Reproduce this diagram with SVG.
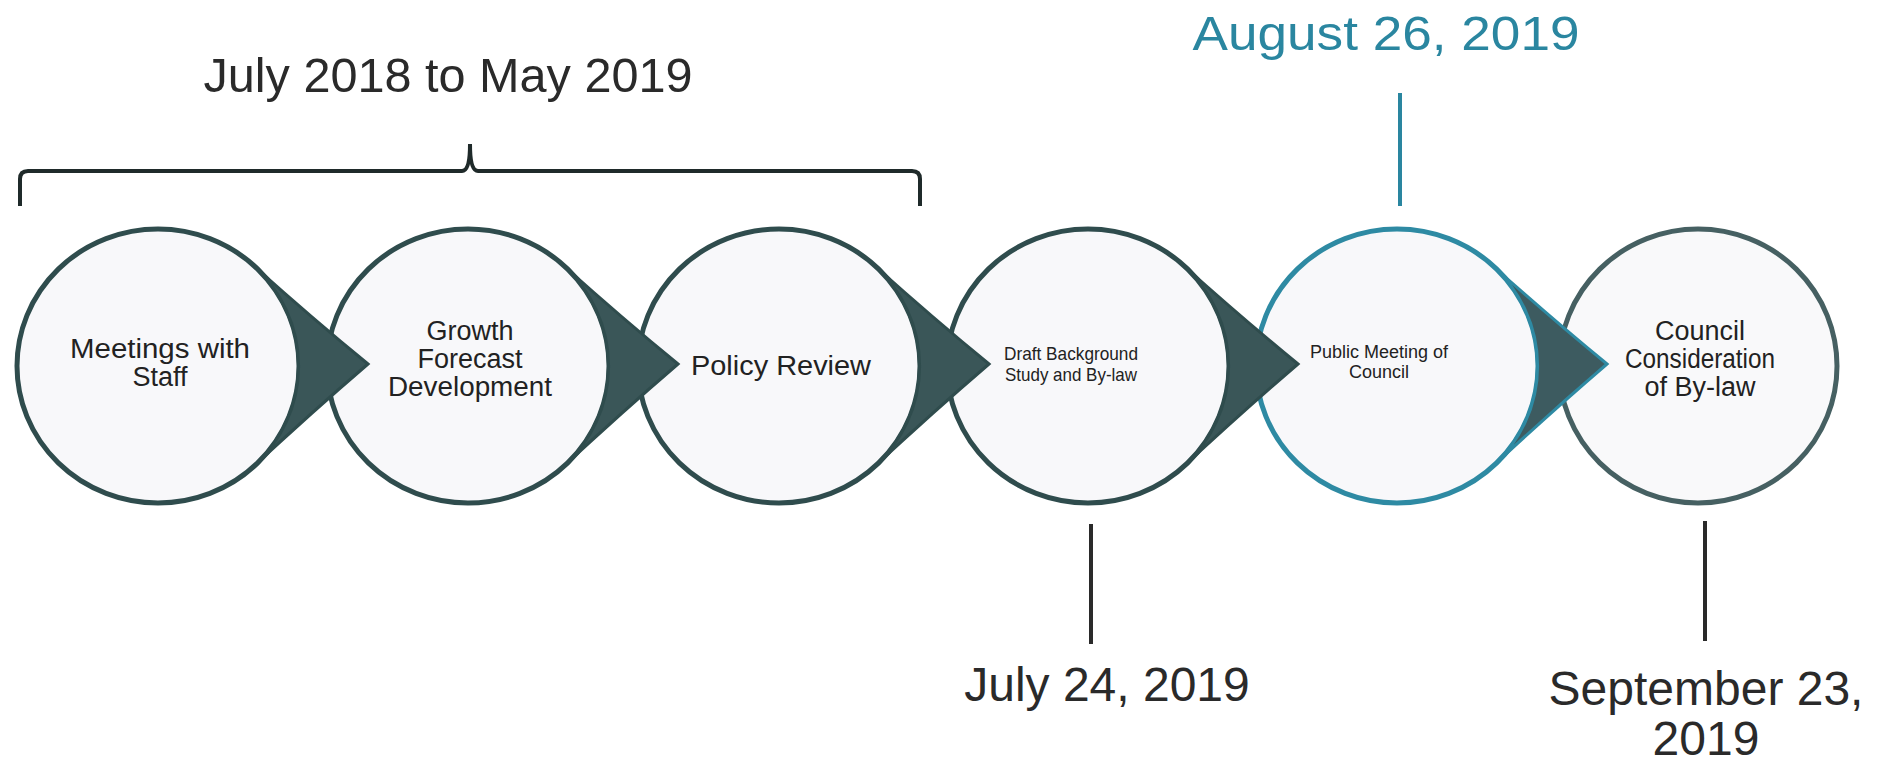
<svg xmlns="http://www.w3.org/2000/svg" width="1879" height="763" viewBox="0 0 1879 763">
<style>
  .circ { fill: #f8f8fa; stroke: #2f4c4d; stroke-width: 5; }
  .circ-teal { fill: #f8f8fa; stroke: #2e8aa3; stroke-width: 5; }
  .circ-last { fill: #f9f9fa; stroke: #466062; stroke-width: 5; }
  .chev { fill: #3a5658; stroke: #2f4c4d; stroke-width: 3; stroke-linejoin: miter; }
  .chev-teal { fill: #3d5b60; stroke: #2e8aa3; stroke-width: 3; stroke-linejoin: miter; }
  .lbl { font-family: "Liberation Sans", Arial, sans-serif; fill: #222; text-anchor: middle; }
  .date { font-family: "Liberation Sans", Arial, sans-serif; fill: #2a2a2a; text-anchor: middle; font-size: 48px; }
  .tick { stroke: #2a2a2a; stroke-width: 4; }
</style>

<!-- nodes -->
<g id="node-meetings">
  <ellipse class="circ" cx="158" cy="366" rx="141" ry="137"/>
</g>
<g id="node-growth">
  <ellipse class="circ" cx="468" cy="366" rx="141" ry="137"/>
</g>
<g id="node-policy">
  <ellipse class="circ" cx="779" cy="366" rx="141" ry="137"/>
</g>
<g id="node-draft">
  <ellipse class="circ" cx="1088" cy="366" rx="141" ry="137"/>
</g>
<g id="node-public">
  <ellipse class="circ-teal" cx="1397" cy="366" rx="141" ry="137"/>
</g>
<g id="node-council">
  <ellipse class="circ-last" cx="1698" cy="366" rx="139" ry="137"/>
</g>

<!-- connectors: chevron arrows -->
<g id="connectors">
  <path class="chev" transform="translate(158,366)" d="M 96,-100 Q 154,-48 210,-2 Q 154,46 96,100 A 141 137 0 0 0 96,-100 Z"/>
  <path class="chev" transform="translate(468,366)" d="M 96,-100 Q 154,-48 210,-2 Q 154,46 96,100 A 141 137 0 0 0 96,-100 Z"/>
  <path class="chev" transform="translate(779,366)" d="M 96,-100 Q 154,-48 210,-2 Q 154,46 96,100 A 141 137 0 0 0 96,-100 Z"/>
  <path class="chev" transform="translate(1088,366)" d="M 96,-100 Q 154,-48 210,-2 Q 154,46 96,100 A 141 137 0 0 0 96,-100 Z"/>
  <path class="chev-teal" transform="translate(1397,366)" d="M 96,-100 Q 154,-48 210,-2 Q 154,46 96,100 A 141 137 0 0 0 96,-100 Z"/>
</g>

<!-- node labels -->
<g id="labels">
  <text class="lbl" font-size="27"><tspan x="160" y="358" textLength="180" lengthAdjust="spacingAndGlyphs">Meetings with</tspan><tspan x="160" y="386">Staff</tspan></text>
  <text class="lbl" font-size="27"><tspan x="470" y="340">Growth</tspan><tspan x="470" y="368">Forecast</tspan><tspan x="470" y="396" textLength="164" lengthAdjust="spacingAndGlyphs">Development</tspan></text>
  <text class="lbl" font-size="27" x="781" y="375" textLength="180" lengthAdjust="spacingAndGlyphs">Policy Review</text>
  <text class="lbl" font-size="19"><tspan x="1071" y="360" textLength="134" lengthAdjust="spacingAndGlyphs">Draft Background</tspan><tspan x="1071" y="381" textLength="132" lengthAdjust="spacingAndGlyphs">Study and By-law</tspan></text>
  <text class="lbl" font-size="18"><tspan x="1379" y="358">Public Meeting of</tspan><tspan x="1379" y="378">Council</tspan></text>
  <text class="lbl" font-size="27"><tspan x="1700" y="340">Council</tspan><tspan x="1700" y="368" textLength="150" lengthAdjust="spacingAndGlyphs">Consideration</tspan><tspan x="1700" y="396">of By-law</tspan></text>
</g>

<!-- timeline annotations -->
<g id="annotations">
  <path d="M 20,206 L 20,179 Q 20,171 28,171 L 462,171 Q 470,171 470,144 Q 470,171 478,171 L 912,171 Q 920,171 920,179 L 920,206" fill="none" stroke="#1f2a2a" stroke-width="4"/>
  <text class="date" x="448" y="92" font-size="50" textLength="489" lengthAdjust="spacingAndGlyphs">July 2018 to May 2019</text>
  <text class="date" x="1386" y="50" font-size="50" style="fill:#2a86a0" textLength="387" lengthAdjust="spacingAndGlyphs">August 26, 2019</text>
  <line x1="1400" y1="93" x2="1400" y2="206" stroke="#2a86a0" stroke-width="4"/>
  <line class="tick" x1="1091" y1="524" x2="1091" y2="644"/>
  <text class="date" x="1107" y="701">July 24, 2019</text>
  <line class="tick" x1="1705" y1="521" x2="1705" y2="641"/>
  <text class="date"><tspan x="1706" y="705">September 23,</tspan><tspan x="1706" y="755">2019</tspan></text>
</g>
</svg>
